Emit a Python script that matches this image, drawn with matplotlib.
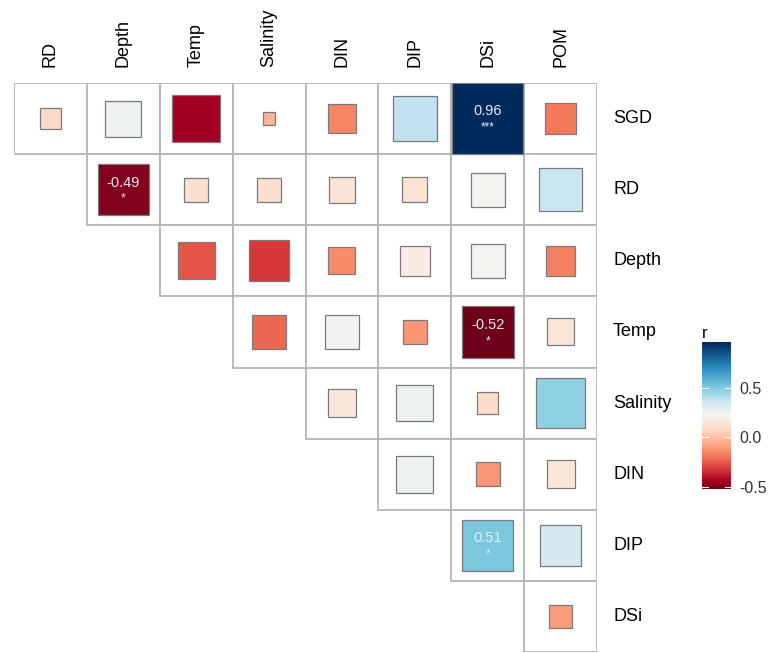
import matplotlib
matplotlib.use('Agg')
import matplotlib.pyplot as plt
import matplotlib.patches as pch
import matplotlib as mpl
import numpy as np

plt.rcParams['font.family'] = ['Liberation Sans', 'DejaVu Sans']

# upper triangle of the correlation matrix
col_vars = ['RD', 'Depth', 'Temp', 'Salinity', 'DIN', 'DIP', 'DSi', 'POM']
row_vars = ['SGD', 'RD', 'Depth', 'Temp', 'Salinity', 'DIN', 'DIP', 'DSi']

r_sgd = [0.08, 0.25, -0.44, -0.03, -0.16, 0.38, 0.96, -0.19]
r_rd = [-0.49, 0.11, 0.11, 0.13, 0.12, 0.22, 0.36]
r_depth = [-0.26, -0.32, -0.14, 0.17, 0.22, -0.17]
r_temp = [-0.22, 0.23, -0.11, -0.52, 0.14]
r_salinity = [0.15, 0.26, 0.09, 0.47]
r_din = [0.26, -0.11, 0.15]
r_dip = [0.51, 0.33]
r_dsi = [-0.10]
rows_r = [r_sgd, r_rd, r_depth, r_temp, r_salinity, r_din, r_dip, r_dsi]

# significance stars for the labelled cells
labelled = {(0, 6): '***', (1, 1): '*', (3, 6): '*', (6, 6): '*'}

rmin, rmax = -0.52, 0.96
# red-white-blue ramp stretched over the range of r
ramp = [(-0.52, '#6e0019'), (-0.44, '#a50021'), (-0.32, '#d8383a'),
        (-0.19, '#f4795a'), (-0.08, '#fca383'), (0.08, '#fddbc7'),
        (0.22, '#f5f3f0'), (0.35, '#d1e8f2'), (0.51, '#7cc8df'),
        (0.70, '#2a8cc0'), (0.96, '#002a5c')]
cmap = mpl.colors.LinearSegmentedColormap.from_list(
    'rb', [((v - rmin) / (rmax - rmin), c) for v, c in ramp])
norm = mpl.colors.Normalize(vmin=rmin, vmax=rmax)

W, H = 768, 653
fig = plt.figure(figsize=(W / 100, H / 100), dpi=100)
x0, x1, y0, y1 = 14, 597, 83, 652
ax = fig.add_axes([x0 / W, 1 - y1 / H, (x1 - x0) / W, (y1 - y0) / H])
ax.set_xlim(0, 8)
ax.set_ylim(8, 0)
ax.axis('off')

cw = (x1 - x0) / 8.0
ch = (y1 - y0) / 8.0
cell_px = 0.5 * (cw + ch)

for i, rr in enumerate(rows_r):
    for k, r in enumerate(rr):
        j = i + k
        ax.add_patch(pch.Rectangle((j, i), 1, 1, facecolor='white',
                                   edgecolor='#b5b5b5', lw=1.3, zorder=1))
        side = cell_px * np.sqrt(abs(r))
        w = side / cw
        h = side / ch
        ax.add_patch(pch.Rectangle((j + 0.5 - w / 2, i + 0.5 - h / 2), w, h,
                                   facecolor=cmap(norm(r)), edgecolor='#7a7a7a',
                                   lw=0.9, zorder=2))
        if (i, j) in labelled:
            ax.text(j + 0.5, i + 0.4, '%.2f' % r, ha='center', va='center',
                    color='#e4ecf2', fontsize=10.5, zorder=3)
            ax.text(j + 0.5, i + 0.63, labelled[(i, j)], ha='center', va='center',
                    color='#e4ecf2', fontsize=8.5, zorder=3)

for j, name in enumerate(col_vars):
    ax.text(j + 0.5, -0.22, name, rotation=90, ha='center', va='bottom',
            fontsize=13, color='black', clip_on=False)
for i, name in enumerate(row_vars):
    ax.text(8.22, i + 0.5, name, ha='left', va='center',
            fontsize=13, color='black', clip_on=False)

# colour bar
cax = fig.add_axes([702 / W, 1 - 489 / H, 29 / W, (489 - 342) / H])
cb = mpl.colorbar.ColorbarBase(cax, cmap=cmap, norm=norm, orientation='vertical')
cb.outline.set_visible(False)
cb.set_ticks([-0.5, 0.0, 0.5])
cb.set_ticklabels(['-0.5', '0.0', '0.5'])
cax.tick_params(length=0, labelsize=11.5, pad=6, labelcolor='#333333')
for t in [-0.5, 0.0, 0.5]:
    cax.plot([0, 0.2], [t, t], color='white', lw=0.8)
    cax.plot([0.8, 1.0], [t, t], color='white', lw=0.8)
cax.set_xlim(0, 1)
cax.set_ylim(rmin, rmax)
fig.text(702 / W, 1 - 333 / H, 'r', fontsize=12, ha='left', va='center')

fig.savefig('out.png', dpi=100)
